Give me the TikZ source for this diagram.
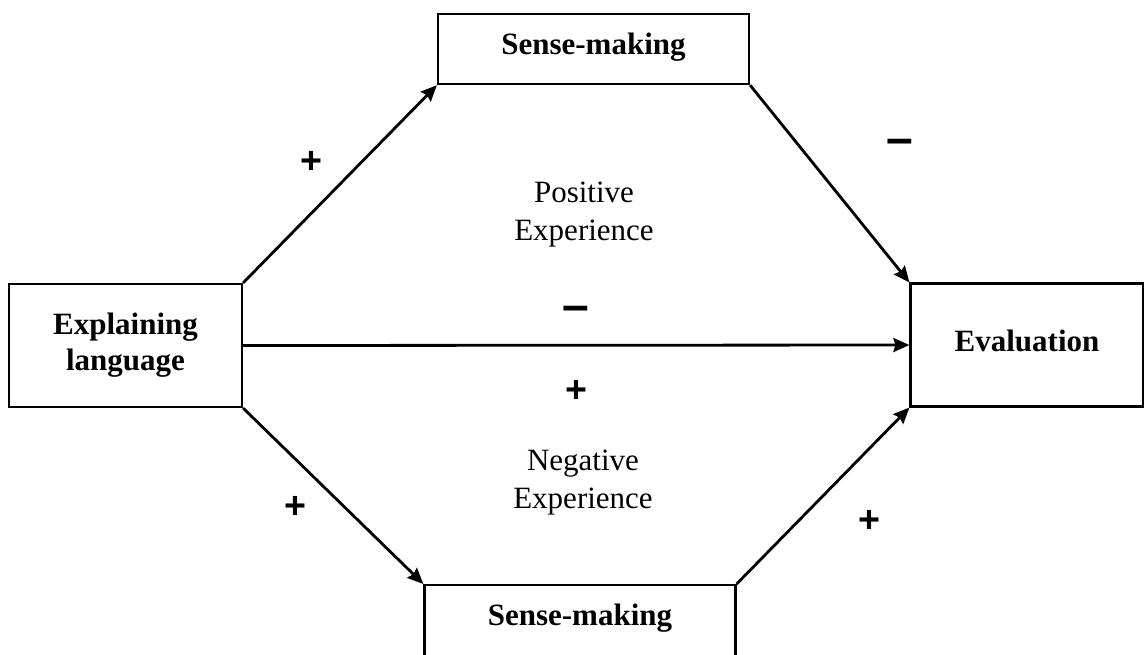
\documentclass[tikz,border=0pt]{standalone}
\usepackage{fontspec}
\setmainfont{Liberation Serif}
\newfontfamily\signfont{Liberation Sans}
\usetikzlibrary{arrows.meta}

\begin{document}
\begin{tikzpicture}[x=0.5pt, y=-0.5pt,
		box/.style={draw, line width=1.1pt, inner sep=0pt, align=center,
			font=\fontsize{15.5}{18}\selectfont\bfseries},
		sensebox/.style={box, anchor=north, minimum width=155.5pt, text height=20pt},
		endbox/.style={box, minimum width=116.5pt, minimum height=61.5pt},
		link/.style={line width=1.4pt, -{Stealth[length=8pt, width=7pt, inset=1pt]}},
		plus/.style={font=\signfont\fontsize{18.8}{18.8}\selectfont\bfseries},
		minus/.style={font=\signfont\fontsize{24}{24}\selectfont\bfseries},
		note/.style={align=center, font=\fontsize{15.5}{19}\selectfont}]
			%%%%% START %%%%%
			\useasboundingbox (0, 0) rectangle (1144, 654);
			
			\node[endbox] (lang) at (125.5, 345.5) {Explaining\\language};
			\node[endbox, text depth=4pt] (eval) at (1027, 345) {Evaluation};
			
			\node[sensebox, text depth=15pt] (senseUp) at (593.5, 13) {Sense-making};
			\node[sensebox, text depth=60pt] (senseDown) at (580, 584) {Sense-making};
			
			\draw[link] (lang.north east) -- (senseUp.south west);
			\draw[link] (senseUp.south east) -- (eval.north west);
			\draw[link] (lang.east) -- (eval.west);
			\draw[link] (lang.south east) -- (senseDown.north west);
			\draw[link] (senseDown.north east) -- (eval.south west);
			
			\node[note] (posExp) at (584, 215) {Positive\\Experience};
			\node[note] (negExp) at (583, 483) {Negative\\Experience};
			
			\node[plus] (s1) at (311, 162) {+};
			\node[minus] (s2) at (900, 147) {\textendash};
			\node[minus] (s3) at (576, 314) {\textendash};
			\node[plus] (s4) at (576, 391) {+};
			\node[plus] (s5) at (295, 507) {+};
			\node[plus] (s6) at (869, 521) {+};
			%%%%% END %%%%%
		\end{tikzpicture}
\end{document}
